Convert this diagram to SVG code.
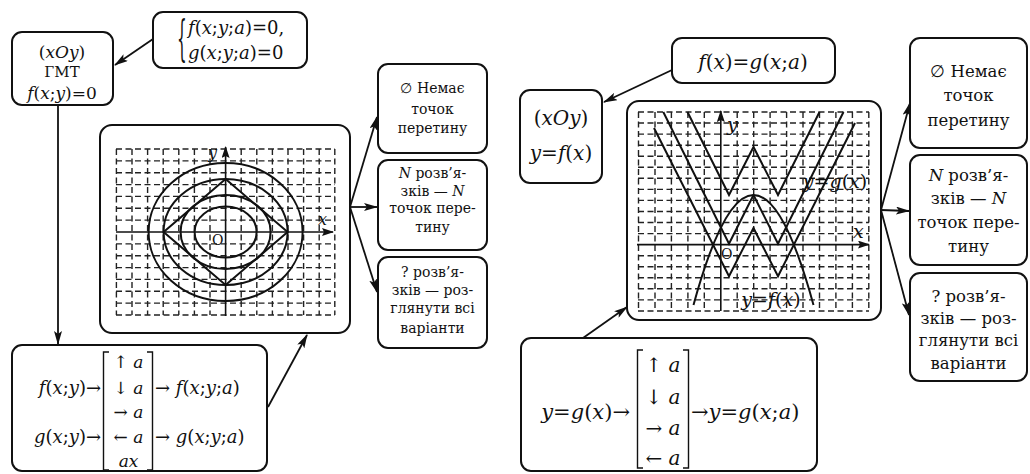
<svg xmlns="http://www.w3.org/2000/svg" width="1030" height="474" viewBox="0 0 1030 474">
<style>
  .box { fill: #fff; stroke: #111; stroke-width: 2; }
  .grid line { stroke: #222; stroke-width: 1.4; stroke-dasharray: 6 3.5; }
  .curve { fill: none; stroke: #111; stroke-width: 2; stroke-linejoin: miter; }
  .axis { stroke: #111; stroke-width: 1.6; marker-end: url(#ax); }
  .conn line { stroke: #111; stroke-width: 1.8; marker-end: url(#arr); }
  .brk { fill: none; stroke: #111; stroke-width: 1.4; }
  text { font-family: "DejaVu Serif", "Liberation Serif", serif; fill: #111; }
  .s15 { font-size: 14px; }
  .s17 { font-size: 16.5px; }
  .m15 { font-size: 15px; }
  .m16 { font-size: 16px; }
  .m17 { font-size: 17px; }
  .m18 { font-size: 18px; }
  .M19 { font-size: 19px; }
  .M20 { font-size: 20px; }
  .M21 { font-size: 21px; }
  .i { font-style: italic; }
  .c { text-anchor: middle; }
  .r { text-anchor: end; }
</style>
<defs>
  <marker id="arr" viewBox="0 0 14 8" refX="13" refY="4" markerWidth="14" markerHeight="8" markerUnits="userSpaceOnUse" orient="auto">
    <path d="M0 0 L14 4 L0 8 L3 4 Z" fill="#111"/>
  </marker>
  <marker id="ax" viewBox="0 0 12 8" refX="11" refY="4" markerWidth="12" markerHeight="8" markerUnits="userSpaceOnUse" orient="auto">
    <path d="M0 0 L12 4 L0 8 L2 4 Z" fill="#111"/>
  </marker>
</defs>
<rect width="1030" height="474" fill="#fff"/>

<g id="connectors">
  <g class="conn">
    <line x1="153" y1="39" x2="115" y2="65"/>
    <line x1="58" y1="105" x2="58" y2="344"/>
    <line x1="268" y1="407" x2="307" y2="335"/>
    <line x1="350" y1="207" x2="377" y2="117"/>
    <line x1="350" y1="207" x2="377" y2="207"/>
    <line x1="350" y1="207" x2="377" y2="292"/>
    <line x1="672" y1="70" x2="604" y2="102"/>
    <line x1="583" y1="338" x2="627" y2="307"/>
    <line x1="881" y1="210" x2="910" y2="103"/>
    <line x1="881" y1="210" x2="909" y2="211"/>
    <line x1="881" y1="210" x2="909" y2="315"/>
  </g>
</g>

<g id="nodeA">
  <rect class="box" x="12" y="32" width="101" height="73" rx="10"/>
  <text class="m17 c" x="62" y="58">(<tspan class="i">xOy</tspan>)</text>
  <text class="m15 c" x="62" y="77">ГМТ</text>
  <text class="m17 c" x="62" y="99"><tspan class="i">f</tspan>(<tspan class="i">x</tspan>;<tspan class="i">y</tspan>)=0</text>
</g>

<g id="nodeB">
  <rect class="box" x="153" y="12" width="154" height="56" rx="10"/>
  <text font-size="48" transform="translate(177,55) scale(0.32,1)">{</text>
  <text class="m18" x="188" y="34"><tspan class="i">f</tspan>(<tspan class="i">x</tspan>;<tspan class="i">y</tspan>;<tspan class="i">a</tspan>)=0,</text>
  <text class="m18" x="188" y="59"><tspan class="i">g</tspan>(<tspan class="i">x</tspan>;<tspan class="i">y</tspan>;<tspan class="i">a</tspan>)=0</text>
</g>

<g id="nodeC">
  <rect class="box" x="100" y="125" width="250" height="208" rx="12"/>
  <g class="grid">
    <line x1="116.4" y1="149" x2="116.4" y2="315"/>
    <line x1="132" y1="149" x2="132" y2="315"/>
    <line x1="147.6" y1="149" x2="147.6" y2="315"/>
    <line x1="163.2" y1="149" x2="163.2" y2="315"/>
    <line x1="178.8" y1="149" x2="178.8" y2="315"/>
    <line x1="194.4" y1="149" x2="194.4" y2="315"/>
    <line x1="210" y1="149" x2="210" y2="315"/>
    <line x1="241.2" y1="149" x2="241.2" y2="315"/>
    <line x1="256.8" y1="149" x2="256.8" y2="315"/>
    <line x1="272.4" y1="149" x2="272.4" y2="315"/>
    <line x1="288" y1="149" x2="288" y2="315"/>
    <line x1="303.6" y1="149" x2="303.6" y2="315"/>
    <line x1="319.2" y1="149" x2="319.2" y2="315"/>
    <line x1="334.8" y1="149" x2="334.8" y2="315"/>
    <line x1="116" y1="149" x2="335" y2="149"/>
    <line x1="116" y1="160.9" x2="335" y2="160.9"/>
    <line x1="116" y1="172.7" x2="335" y2="172.7"/>
    <line x1="116" y1="184.6" x2="335" y2="184.6"/>
    <line x1="116" y1="196.4" x2="335" y2="196.4"/>
    <line x1="116" y1="208.3" x2="335" y2="208.3"/>
    <line x1="116" y1="220.1" x2="335" y2="220.1"/>
    <line x1="116" y1="243.9" x2="335" y2="243.9"/>
    <line x1="116" y1="255.7" x2="335" y2="255.7"/>
    <line x1="116" y1="267.6" x2="335" y2="267.6"/>
    <line x1="116" y1="279.4" x2="335" y2="279.4"/>
    <line x1="116" y1="291.3" x2="335" y2="291.3"/>
    <line x1="116" y1="303.1" x2="335" y2="303.1"/>
    <line x1="116" y1="315" x2="335" y2="315"/>
  </g>
  <line class="axis" x1="116" y1="232" x2="333" y2="232"/>
  <line class="axis" x1="225.6" y1="316" x2="225.6" y2="147"/>
  <ellipse class="curve" cx="225.6" cy="232" rx="77" ry="69"/>
  <ellipse class="curve" cx="225.6" cy="232" rx="62" ry="53"/>
  <ellipse class="curve" cx="225.6" cy="232" rx="45" ry="37"/>
  <ellipse class="curve" cx="225.6" cy="232" rx="31" ry="25.5"/>
  <path class="curve" d="M225.6 179 L163.6 232 L225.6 285 L287.6 232 Z"/>
  <text class="m16 i" x="208" y="158">y</text>
  <text class="m16 i" x="318" y="225">x</text>
  <text class="s15" x="212" y="245">O</text>
</g>

<g id="nodeD">
  <rect class="box" x="12" y="345" width="255" height="126" rx="10"/>
  <text class="m18 r" x="101" y="394"><tspan class="i">f</tspan>(<tspan class="i">x</tspan>;<tspan class="i">y</tspan>)→</text>
  <text class="m18 r" x="101" y="443"><tspan class="i">g</tspan>(<tspan class="i">x</tspan>;<tspan class="i">y</tspan>)→</text>
  <path class="brk" d="M109 352 H103.5 V470 H109"/>
  <path class="brk" d="M147 352 H152.5 V470 H147"/>
  <text class="m17 c" x="128.5" y="368">↑ <tspan class="i">a</tspan></text>
  <text class="m17 c" x="128.5" y="394">↓ <tspan class="i">a</tspan></text>
  <text class="m17 c" x="128.5" y="418">→ <tspan class="i">a</tspan></text>
  <text class="m17 c" x="128.5" y="443">← <tspan class="i">a</tspan></text>
  <text class="m17 c" x="128.5" y="467"><tspan class="i">ax</tspan></text>
  <text class="m18" x="155" y="394">→ <tspan class="i">f</tspan>(<tspan class="i">x</tspan>;<tspan class="i">y</tspan>;<tspan class="i">a</tspan>)</text>
  <text class="m18" x="155" y="443">→ <tspan class="i">g</tspan>(<tspan class="i">x</tspan>;<tspan class="i">y</tspan>;<tspan class="i">a</tspan>)</text>
</g>

<g id="nodeE1">
  <rect class="box" x="378" y="64" width="109" height="89" rx="10"/>
  <text class="s15 c" x="432.5" y="93">∅ Немає</text>
  <text class="s15 c" x="432.5" y="114">точок</text>
  <text class="s15 c" x="432.5" y="133">перетину</text>
</g>
<g id="nodeE2">
  <rect class="box" x="378" y="160" width="109" height="90" rx="10"/>
  <text class="s15 c" x="432.5" y="178"><tspan class="i">N</tspan> розв’я-</text>
  <text class="s15 c" x="432.5" y="196">зків — <tspan class="i">N</tspan></text>
  <text class="s15 c" x="432.5" y="213">точок пере-</text>
  <text class="s15 c" x="432.5" y="232">тину</text>
</g>
<g id="nodeE3">
  <rect class="box" x="378" y="257" width="109" height="91" rx="10"/>
  <text class="s15 c" x="432.5" y="277">? розв’я-</text>
  <text class="s15 c" x="432.5" y="295">зків — роз-</text>
  <text class="s15 c" x="432.5" y="313">глянути всі</text>
  <text class="s15 c" x="432.5" y="333">варіанти</text>
</g>

<g id="nodeF">
  <rect class="box" x="672" y="38" width="163" height="45" rx="10"/>
  <text class="M20 c" x="753" y="69"><tspan class="i">f</tspan>(<tspan class="i">x</tspan>)=<tspan class="i">g</tspan>(<tspan class="i">x</tspan>;<tspan class="i">a</tspan>)</text>
</g>

<g id="nodeG">
  <rect class="box" x="520" y="90" width="82" height="93" rx="10"/>
  <text class="M20 c" x="561" y="125">(<tspan class="i">xOy</tspan>)</text>
  <text class="M20 c" x="561" y="160"><tspan class="i">y</tspan>=<tspan class="i">f</tspan>(<tspan class="i">x</tspan>)</text>
</g>

<g id="nodeH">
  <rect class="box" x="627" y="101" width="254" height="219" rx="12"/>
  <g class="grid">
    <line x1="638.5" y1="112" x2="638.5" y2="311"/>
    <line x1="655" y1="112" x2="655" y2="311"/>
    <line x1="671.4" y1="112" x2="671.4" y2="311"/>
    <line x1="687.9" y1="112" x2="687.9" y2="311"/>
    <line x1="704.3" y1="112" x2="704.3" y2="311"/>
    <line x1="737.2" y1="112" x2="737.2" y2="311"/>
    <line x1="753.7" y1="112" x2="753.7" y2="311"/>
    <line x1="770.1" y1="112" x2="770.1" y2="311"/>
    <line x1="786.6" y1="112" x2="786.6" y2="311"/>
    <line x1="803" y1="112" x2="803" y2="311"/>
    <line x1="819.5" y1="112" x2="819.5" y2="311"/>
    <line x1="835.9" y1="112" x2="835.9" y2="311"/>
    <line x1="852.4" y1="112" x2="852.4" y2="311"/>
    <line x1="868.8" y1="112" x2="868.8" y2="311"/>
    <line x1="638" y1="112" x2="869" y2="112"/>
    <line x1="638" y1="123" x2="869" y2="123"/>
    <line x1="638" y1="134.1" x2="869" y2="134.1"/>
    <line x1="638" y1="145.2" x2="869" y2="145.2"/>
    <line x1="638" y1="156.2" x2="869" y2="156.2"/>
    <line x1="638" y1="167.3" x2="869" y2="167.3"/>
    <line x1="638" y1="178.3" x2="869" y2="178.3"/>
    <line x1="638" y1="189.4" x2="869" y2="189.4"/>
    <line x1="638" y1="200.4" x2="869" y2="200.4"/>
    <line x1="638" y1="211.5" x2="869" y2="211.5"/>
    <line x1="638" y1="222.5" x2="869" y2="222.5"/>
    <line x1="638" y1="233.6" x2="869" y2="233.6"/>
    <line x1="638" y1="255.7" x2="869" y2="255.7"/>
    <line x1="638" y1="266.7" x2="869" y2="266.7"/>
    <line x1="638" y1="277.8" x2="869" y2="277.8"/>
    <line x1="638" y1="288.8" x2="869" y2="288.8"/>
    <line x1="638" y1="299.9" x2="869" y2="299.9"/>
    <line x1="638" y1="311" x2="869" y2="311"/>
  </g>
  <line class="axis" x1="637" y1="244.6" x2="869" y2="244.6"/>
  <line class="axis" x1="720.8" y1="311" x2="720.8" y2="111"/>
  <path class="curve" d="M687.5 112 L729 195 L753.5 147 L778 195 L819.5 112"/>
  <path class="curve" d="M663.3 112 L729 243.7 L753.5 195 L778 243.7 L843.5 112"/>
  <path class="curve" d="M654 128 L729 276.3 L753.5 228 L778 276.3 L855 123"/>
  <path class="curve" d="M693.5 305 Q753.5 85 813.5 305"/>
  <text class="M19 i" x="727" y="131">y</text>
  <text class="M19 i" x="853" y="238">x</text>
  <text class="s15" x="721" y="259">O</text>
  <text class="M19 c" x="835" y="188"><tspan class="i">y</tspan>=<tspan class="i">g</tspan>(<tspan class="i">x</tspan>)</text>
  <text class="M19 c" x="771" y="306"><tspan class="i">y</tspan>=<tspan class="i">f</tspan>(<tspan class="i">x</tspan>)</text>
</g>

<g id="nodeI">
  <rect class="box" x="521" y="338" width="296" height="133" rx="10"/>
  <text class="M21 r" x="630" y="419"><tspan class="i">y</tspan>=<tspan class="i">g</tspan>(<tspan class="i">x</tspan>)→</text>
  <path class="brk" d="M643 350 H637.5 V468 H643"/>
  <path class="brk" d="M683 350 H688.5 V468 H683"/>
  <text class="M20 c" x="663" y="372">↑ <tspan class="i">a</tspan></text>
  <text class="M20 c" x="663" y="404">↓ <tspan class="i">a</tspan></text>
  <text class="M20 c" x="663" y="435">→ <tspan class="i">a</tspan></text>
  <text class="M20 c" x="663" y="465">← <tspan class="i">a</tspan></text>
  <text class="M21" x="691" y="419">→<tspan class="i">y</tspan>=<tspan class="i">g</tspan>(<tspan class="i">x</tspan>;<tspan class="i">a</tspan>)</text>
</g>

<g id="nodeJ1">
  <rect class="box" x="910" y="38" width="117" height="110" rx="10"/>
  <text class="s17 c" x="968.5" y="77">∅ Немає</text>
  <text class="s17 c" x="968.5" y="101">точок</text>
  <text class="s17 c" x="968.5" y="126">перетину</text>
</g>
<g id="nodeJ2">
  <rect class="box" x="910" y="155" width="117" height="110" rx="10"/>
  <text class="s17 c" x="968.5" y="181"><tspan class="i">N</tspan> розв’я-</text>
  <text class="s17 c" x="968.5" y="204">зків — <tspan class="i">N</tspan></text>
  <text class="s17 c" x="968.5" y="228">точок пере-</text>
  <text class="s17 c" x="968.5" y="252">тину</text>
</g>
<g id="nodeJ3">
  <rect class="box" x="910" y="273" width="117" height="108" rx="10"/>
  <text class="s17 c" x="968.5" y="302">? розв’я-</text>
  <text class="s17 c" x="968.5" y="324">зків — роз-</text>
  <text class="s17 c" x="968.5" y="346">глянути всі</text>
  <text class="s17 c" x="968.5" y="369">варіанти</text>
</g>
</svg>
